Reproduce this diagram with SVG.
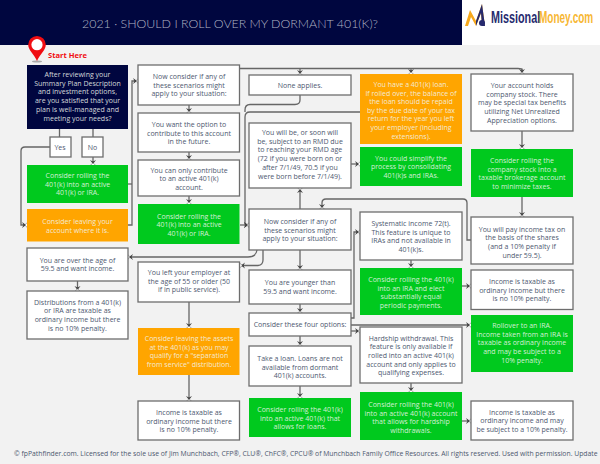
<svg xmlns="http://www.w3.org/2000/svg" width="600" height="464" viewBox="0 0 600 464">
<style>
text{font-family:"Open Sans","DejaVu Sans",sans-serif;font-size:7px;text-anchor:middle}
.w rect{fill:#fff;stroke:#6d6d6d;stroke-width:1.3}
.w text{fill:#4d586f}
.g rect{fill:#00c91e}
.o rect{fill:#ffa500}
.n rect{fill:#00063f}
.g text,.o text,.n text{fill:#f2f6f0;fill-opacity:.88}
.c{fill:none;stroke:#666;stroke-width:1.3}
.a{marker-end:url(#ah)}
.logo{font-family:"Liberation Sans",sans-serif;font-weight:700;font-size:10px;text-anchor:start}
</style>
<defs>
<marker id="ah" markerUnits="userSpaceOnUse" markerWidth="9" markerHeight="9" refX="6" refY="4" orient="auto" overflow="visible">
<path d="M1,1 L5,4 L1,7 L2.5,4Z" fill="#3f3f3f"/><path d="M6,1.8 L3.8,4 L6,6.2 L8,4Z" fill="#fff" stroke="#555" stroke-width=".5"/>
</marker>
</defs>
<rect width="600" height="464" fill="#f2f2f2"/>
<rect width="462" height="45" fill="#00063f"/>
<rect x="462" width="138" height="45" fill="#fff"/>
<text x="230" y="27.5" style="font-family:Lato,sans-serif;font-size:12.4px;font-weight:300;fill:#b0b4c4">2021 · SHOULD I ROLL OVER MY DORMANT 401(K)?</text>
<g id="logo">
<path d="M465,26 L470,10 L476,21 L482,4 L485,26 L482,26 L481,13 L476,26 L471,17 L468,26Z" fill="#f7a81b"/>
<path d="M476,21 L482,4 L485,26 L482,26 L481,13 L476,26Z" fill="#262a6e"/>
<circle cx="482" cy="23" r="3" fill="#262a6e"/>
<text class="logo" transform="translate(491,22.5) scale(1.08,1.65)" fill="#262a6e">Missional</text>
<text class="logo" transform="translate(539,22.5) scale(1,1.65)" fill="#f7b733">Money.com</text>
</g>
<g id="pin">
<ellipse cx="37" cy="61.5" rx="5" ry="1" fill="#aaa"/>
<path d="M37,61 C34,54 28.2,50 28.2,44.7 A8.8,8.8 0 0 1 45.8,44.7 C45.8,50 40,54 37,61Z" fill="#f00d12"/>
<circle cx="37" cy="44.7" r="5.6" fill="#fff"/>
<text x="48" y="58" style="font-family:'Open Sans',sans-serif;font-weight:700;font-size:7.6px;text-anchor:start;fill:#f00d12">Start Here</text>
</g>
<g id="connectors">
<path class="c" d="M59.5,129V137M93,129V137"/>
<path class="c a" d="M93,157V165"/>
<path class="c a" d="M50,147H25Q21,147 21,151V225H27"/>
<path class="c" d="M128,184H132"/>
<path class="c a" d="M128,225H132V81H138"/>
<path class="c a" d="M189,105V113"/>
<path class="c a" d="M189,152V160"/>
<path class="c a" d="M189,196V204"/>
<path class="c a" d="M240,225H249"/>
<path class="c" d="M240,68.5H518Q522,68.5 522,70"/>
<path class="c a" d="M300,68.5V75"/>
<path class="c a" d="M411,68.5V74"/>
<path class="c a" d="M522,68.5V74"/>
<path class="c" d="M300,95V100Q300,104.5 295,104.5H250Q245,104.5 245,110V112"/>
<path class="c a" d="M360,112H250Q245,112 245,117V225H249"/>
<path class="c a" d="M351,164H360"/>
<path class="c a" d="M300,209V188"/>
<path class="c a" d="M471,240H467V203Q467,199 463,199H326Q322,199 322,203V209"/>
<path class="c a" d="M522,131V149"/>
<path class="c a" d="M522,197V217"/>
<path class="c a" d="M462,286H471"/>
<path class="c a" d="M462,421H471"/>
<path class="c a" d="M300,250V270"/>
<path class="c a" d="M300,304V313"/>
<path class="c a" d="M300,336V346"/>
<path class="c a" d="M300,386V398"/>
<path class="c a" d="M257,250Q256,257 248,257H128"/>
<path class="c a" d="M263,250V260Q263,265 258,265.5H240"/>
<path class="c a" d="M351,318H354V232H360"/>
<path class="c a" d="M351,325H471"/>
<path class="c a" d="M351,331H360"/>
<path class="c a" d="M411,260V268"/>
<path class="c a" d="M411,383V392"/>
<path class="c a" d="M189,302V328"/>
<path class="c a" d="M189,375V401"/>
<path class="c a" d="M77.5,281V291"/>
</g>
<g id="n1" class="n"><rect x="27" y="65" width="101" height="64"/><text y="77"><tspan x="77.5">After reviewing your</tspan><tspan x="77.5" dy="8.7">Summary Plan Description</tspan><tspan x="77.5" dy="8.7">and investment options,</tspan><tspan x="77.5" dy="8.7">are you satisfied that your</tspan><tspan x="77.5" dy="8.7">plan is well-managed and</tspan><tspan x="77.5" dy="8.7">meeting your needs?</tspan></text></g>
<g id="yes" class="w"><rect x="50" y="137" width="21" height="20"/><text x="60" y="149.5">Yes</text></g>
<g id="no" class="w"><rect x="82" y="137" width="21" height="20"/><text x="92.5" y="149.5">No</text></g>
<g id="g1" class="g"><rect x="27" y="165" width="101" height="38"/><text y="178"><tspan x="77.5">Consider rolling the</tspan><tspan x="77.5" dy="8.7">401(k) into an active</tspan><tspan x="77.5" dy="8.7">401(k) or IRA.</tspan></text></g>
<g id="o1" class="o"><rect x="27" y="209" width="101" height="32.5"/><text y="224"><tspan x="77.5">Consider leaving your</tspan><tspan x="77.5" dy="8.7">account where it is.</tspan></text></g>
<g id="over" class="w"><rect x="27" y="248" width="101" height="33"/><text y="262.5"><tspan x="77.5">You are over the age of</tspan><tspan x="77.5" dy="8.7">59.5 and want income.</tspan></text></g>
<g id="dist" class="w"><rect x="27" y="291" width="101" height="48"/><text y="304.5"><tspan x="77.5">Distributions from a 401(k)</tspan><tspan x="77.5" dy="8.7">or IRA are taxable as</tspan><tspan x="77.5" dy="8.7">ordinary income but there</tspan><tspan x="77.5" dy="8.7">is no 10% penalty.</tspan></text></g>
<g id="now1" class="w"><rect x="138" y="65" width="101.5" height="40"/><text y="79"><tspan x="189">Now consider if any of</tspan><tspan x="189" dy="8.7">these scenarios might</tspan><tspan x="189" dy="8.7">apply to your situation:</tspan></text></g>
<g id="want" class="w"><rect x="138" y="113" width="101.5" height="39"/><text y="127"><tspan x="189">You want the option to</tspan><tspan x="189" dy="8.7">contribute to this account</tspan><tspan x="189" dy="8.7">in the future.</tspan></text></g>
<g id="only" class="w"><rect x="138" y="160" width="101.5" height="36"/><text y="172.5"><tspan x="189">You can only contribute</tspan><tspan x="189" dy="8.7">to an active 401(k)</tspan><tspan x="189" dy="8.7">account.</tspan></text></g>
<g id="g2" class="g"><rect x="138" y="204" width="101.5" height="40"/><text y="218.5"><tspan x="189">Consider rolling the</tspan><tspan x="189" dy="8.7">401(k) into an active</tspan><tspan x="189" dy="8.7">401(k) or IRA.</tspan></text></g>
<g id="left" class="w"><rect x="138" y="262" width="101.5" height="40"/><text y="275"><tspan x="189">You left your employer at</tspan><tspan x="189" dy="8.7">the age of 55 or older (50</tspan><tspan x="189" dy="8.7">if in public service).</tspan></text></g>
<g id="o2" class="o"><rect x="138" y="328" width="101.5" height="47"/><text y="341"><tspan x="189">Consider leaving the assets</tspan><tspan x="189" dy="8.7">at the 401(k) as you may</tspan><tspan x="189" dy="8.7">qualify for a "separation</tspan><tspan x="189" dy="8.7">from service" distribution.</tspan></text></g>
<g id="inc1" class="w"><rect x="138" y="401" width="101.5" height="39"/><text y="415"><tspan x="189">Income is taxable as</tspan><tspan x="189" dy="8.7">ordinary income but there</tspan><tspan x="189" dy="8.7">is no 10% penalty.</tspan></text></g>
<g id="none" class="w"><rect x="249" y="75" width="102" height="20"/><text x="300" y="88">None applies.</text></g>
<g id="will" class="w"><rect x="249" y="123" width="102" height="65"/><text y="135"><tspan x="300">You will be, or soon will</tspan><tspan x="300" dy="8.7">be, subject to an RMD due</tspan><tspan x="300" dy="8.7">to reaching your RMD age</tspan><tspan x="300" dy="8.7">(72 if you were born on or</tspan><tspan x="300" dy="8.7">after 7/1/49, 70.5 if you</tspan><tspan x="300" dy="8.7">were born before 7/1/49).</tspan></text></g>
<g id="now2" class="w"><rect x="249" y="209" width="102" height="41"/><text y="224"><tspan x="300">Now consider if any of</tspan><tspan x="300" dy="8.7">these scenarios might</tspan><tspan x="300" dy="8.7">apply to your situation:</tspan></text></g>
<g id="young" class="w"><rect x="249" y="270" width="102" height="34"/><text y="285"><tspan x="300">You are younger than</tspan><tspan x="300" dy="8.7">59.5 and want income.</tspan></text></g>
<g id="four" class="w"><rect x="249" y="313" width="102" height="23"/><text x="300" y="326.7">Consider these four options:</text></g>
<g id="loan" class="w"><rect x="249" y="346" width="102" height="40"/><text y="361"><tspan x="300">Take a loan.  Loans are not</tspan><tspan x="300" dy="8.7">available from dormant</tspan><tspan x="300" dy="8.7">401(k) accounts.</tspan></text></g>
<g id="g3" class="g"><rect x="249" y="398" width="102" height="39"/><text y="412"><tspan x="300">Consider rolling the 401(k)</tspan><tspan x="300" dy="8.7">into an active 401(k) that</tspan><tspan x="300" dy="8.7">allows for loans.</tspan></text></g>
<g id="o3" class="o"><rect x="360" y="74" width="102" height="70"/><text y="87"><tspan x="411">You have a 401(k) loan.</tspan><tspan x="411" dy="8.6">If rolled over, the balance of</tspan><tspan x="411" dy="8.6">the loan should be repaid</tspan><tspan x="411" dy="8.6">by the due date of your tax</tspan><tspan x="411" dy="8.6">return for the year you left</tspan><tspan x="411" dy="8.6">your employer (including</tspan><tspan x="411" dy="8.6">extensions).</tspan></text></g>
<g id="g4" class="g"><rect x="360" y="147" width="102" height="39"/><text y="160.5"><tspan x="411">You could simplify the</tspan><tspan x="411" dy="8.7">process by consolidating</tspan><tspan x="411" dy="8.7">401(k)s and IRAs.</tspan></text></g>
<g id="sys" class="w"><rect x="360" y="212" width="102" height="48"/><text y="226"><tspan x="411">Systematic income 72(t).</tspan><tspan x="411" dy="8.7">This feature is unique to</tspan><tspan x="411" dy="8.7">IRAs and not available in</tspan><tspan x="411" dy="8.7">401(k)s.</tspan></text></g>
<g id="g5" class="g"><rect x="360" y="268" width="102" height="47"/><text y="282"><tspan x="411">Consider rolling the 401(k)</tspan><tspan x="411" dy="8.7">into an IRA and elect</tspan><tspan x="411" dy="8.7">substantially equal</tspan><tspan x="411" dy="8.7">periodic payments.</tspan></text></g>
<g id="hard" class="w"><rect x="360" y="327" width="102" height="56"/><text y="340.5"><tspan x="411">Hardship withdrawal.  This</tspan><tspan x="411" dy="8.7">feature is only available if</tspan><tspan x="411" dy="8.7">rolled into an active 401(k)</tspan><tspan x="411" dy="8.7">account and only applies to</tspan><tspan x="411" dy="8.7">qualifying expenses.</tspan></text></g>
<g id="g6" class="g"><rect x="360" y="392" width="102" height="48"/><text y="407"><tspan x="411">Consider rolling the 401(k)</tspan><tspan x="411" dy="8.7">into an active 401(k) account</tspan><tspan x="411" dy="8.7">that allows for hardship</tspan><tspan x="411" dy="8.7">withdrawals.</tspan></text></g>
<g id="holds" class="w"><rect x="471" y="74" width="102" height="57"/><text y="88"><tspan x="522">Your account holds</tspan><tspan x="522" dy="8.7">company stock.  There</tspan><tspan x="522" dy="8.7">may be special tax benefits</tspan><tspan x="522" dy="8.7">utilizing Net Unrealized</tspan><tspan x="522" dy="8.7">Appreciation options.</tspan></text></g>
<g id="g7" class="g"><rect x="471" y="149" width="102" height="48"/><text y="163"><tspan x="522">Consider rolling the</tspan><tspan x="522" dy="8.7">company stock into a</tspan><tspan x="522" dy="8.7">taxable brokerage account</tspan><tspan x="522" dy="8.7">to minimize taxes.</tspan></text></g>
<g id="tax" class="w"><rect x="471" y="217" width="102" height="47"/><text y="231.5"><tspan x="522">You will pay income tax on</tspan><tspan x="522" dy="8.7">the basis of the shares</tspan><tspan x="522" dy="8.7">(and a 10% penalty if</tspan><tspan x="522" dy="8.7">under 59.5).</tspan></text></g>
<g id="inc2" class="w"><rect x="471" y="270" width="102" height="39.5"/><text y="284"><tspan x="522">Income is taxable as</tspan><tspan x="522" dy="8.7">ordinary income but there</tspan><tspan x="522" dy="8.7">is no 10% penalty.</tspan></text></g>
<g id="g8" class="g"><rect x="471" y="315" width="102" height="57"/><text y="328"><tspan x="522">Rollover to an IRA.</tspan><tspan x="522" dy="8.7">Income taken from an IRA is</tspan><tspan x="522" dy="8.7">taxable as ordinary income</tspan><tspan x="522" dy="8.7">and may be subject to a</tspan><tspan x="522" dy="8.7">10% penalty.</tspan></text></g>
<g id="inc3" class="w"><rect x="471" y="401" width="102" height="39"/><text y="414.5"><tspan x="522">Income is taxable as</tspan><tspan x="522" dy="8.7">ordinary income and may</tspan><tspan x="522" dy="8.7">be subject to a 10% penalty.</tspan></text></g>
<text x="14" y="455.5" style="font-size:6.82px;text-anchor:start;fill:#4d586f">© fpPathfinder.com. Licensed for the sole use of Jim Munchbach, CFP®, CLU®, ChFC®, CPCU® of Munchbach Family Office Resources. All rights reserved. Used with permission. Update</text>
</svg>
